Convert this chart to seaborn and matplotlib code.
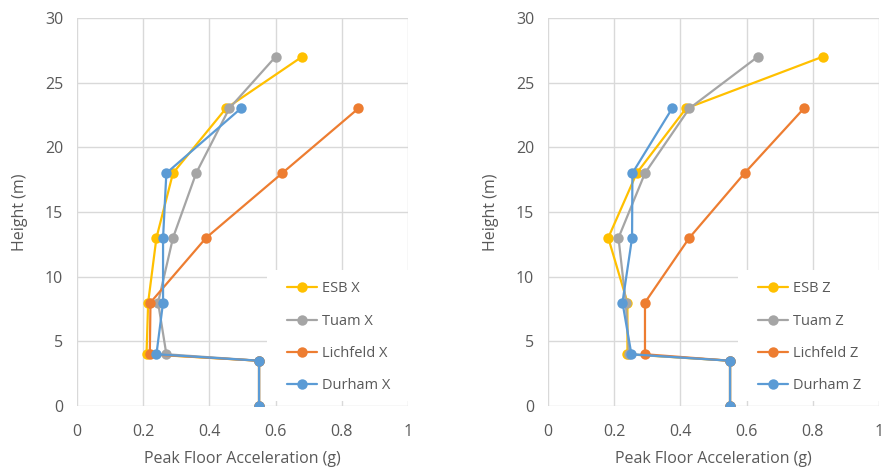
import matplotlib
matplotlib.use("Agg")
import matplotlib.pyplot as plt
from matplotlib.patches import Rectangle
import seaborn as sns
import pandas as pd

heights_full = [0, 3.5, 4, 8, 13, 18, 23, 27]
heights_short = [0, 3.5, 4, 8, 13, 18, 23]

esb_x = [0.55, 0.55, 0.21, 0.215, 0.24, 0.29, 0.45, 0.68]
tuam_x = [0.55, 0.55, 0.27, 0.245, 0.29, 0.36, 0.46, 0.60]
lich_x = [0.55, 0.55, 0.22, 0.222, 0.39, 0.62, 0.85]
durh_x = [0.55, 0.55, 0.24, 0.26, 0.26, 0.27, 0.495]

esb_z = [0.55, 0.55, 0.24, 0.24, 0.182, 0.268, 0.417, 0.83]
tuam_z = [0.55, 0.55, 0.245, 0.235, 0.213, 0.293, 0.427, 0.634]
lich_z = [0.55, 0.55, 0.293, 0.293, 0.427, 0.594, 0.773]
durh_z = [0.55, 0.55, 0.252, 0.225, 0.254, 0.255, 0.375]

x_ticks = [0, 0.2, 0.4, 0.6, 0.8, 1]
x_tick_labels = ["0", "0.2", "0.4", "0.6", "0.8", "1"]
y_ticks = [0, 5, 10, 15, 20, 25, 30]

colors = ["#FFC000", "#A5A5A5", "#ED7D31", "#5B9BD5"]

def build(names, vals):
    rows = []
    for name, v in zip(names, vals):
        hs = heights_full if len(v) == 8 else heights_short
        for i, (a, h) in enumerate(zip(v, hs)):
            rows.append({"series": name, "acc": a, "h": h, "order": i})
    return pd.DataFrame(rows)

names_x = ["ESB X", "Tuam X", "Lichfeld X", "Durham X"]
names_z = ["ESB Z", "Tuam Z", "Lichfeld Z", "Durham Z"]
df_x = build(names_x, [esb_x, tuam_x, lich_x, durh_x])
df_z = build(names_z, [esb_z, tuam_z, lich_z, durh_z])

sns.set_theme(style="white")
plt.rcParams["font.family"] = ["Open Sans", "DejaVu Sans"]

fig = plt.figure(figsize=(8.86, 4.71), dpi=100)
ax1 = fig.add_axes([0.0869, 0.138, 0.3736, 0.824])
ax2 = fig.add_axes([0.6185, 0.138, 0.3736, 0.824])

for ax, df, names in [(ax1, df_x, names_x), (ax2, df_z, names_z)]:
    sns.lineplot(data=df, x="acc", y="h", hue="series", hue_order=names,
                 palette=colors, sort=False, estimator=None, marker="o",
                 markersize=7.5, markeredgewidth=0, linewidth=1.6, ax=ax)
    ax.set_xlim(0, 1)
    ax.set_ylim(0, 30)
    ax.set_xticks(x_ticks)
    ax.set_xticklabels(x_tick_labels)
    ax.set_yticks(y_ticks)
    ax.grid(True, color="#D9D9D9", linewidth=1)
    ax.set_axisbelow(True)
    for s in ax.spines.values():
        s.set_visible(False)
    ax.tick_params(axis="both", length=0, labelsize=11.5, colors="#595959")
    ax.tick_params(axis="x", pad=13)
    ax.tick_params(axis="y", pad=10)
    ax.set_xlabel("Peak Floor Acceleration (g)", fontsize=11.5, color="#595959", labelpad=8)
    ax.set_ylabel("Height (m)", fontsize=11.5, color="#595959", labelpad=12)
    ax.add_patch(Rectangle((0.574, 0.013), 0.426, 0.337, transform=ax.transAxes,
                           facecolor="white", edgecolor="none", zorder=1.5))
    leg = ax.legend(loc="upper left", bbox_to_anchor=(0.634, 0.321), frameon=False,
                    fontsize=10.5, labelspacing=1.18, handlelength=2.1,
                    handletextpad=0.3, borderpad=0.0, borderaxespad=0.0)
    for t in leg.get_texts():
        t.set_color("#595959")

fig.savefig("out.png", dpi=100)
